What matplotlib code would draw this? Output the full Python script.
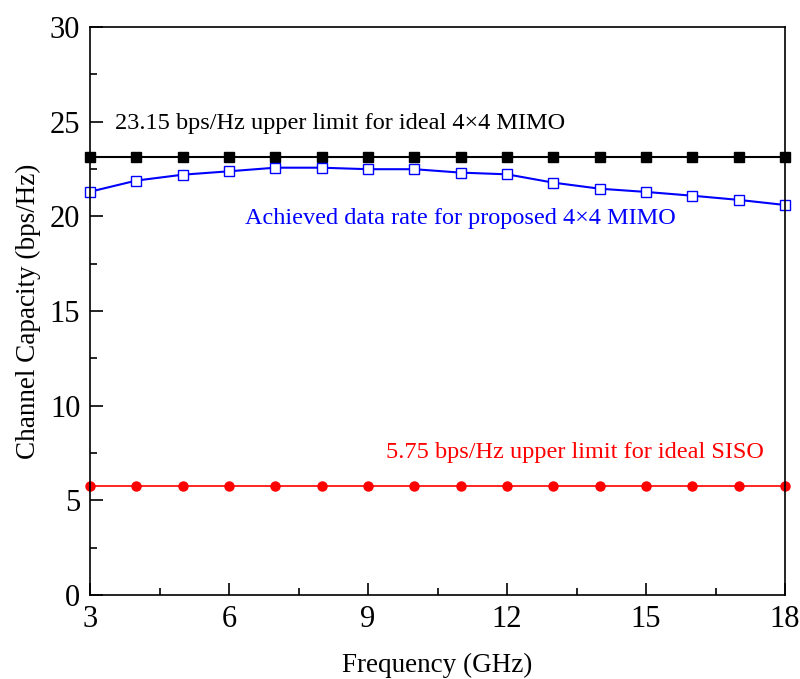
import matplotlib
matplotlib.use("Agg")
import matplotlib.pyplot as plt
from matplotlib.ticker import MultipleLocator

plt.rcParams['font.family'] = ['Liberation Serif', 'DejaVu Serif']

freq = [3, 4, 5, 6, 7, 8, 9, 10, 11, 12, 13, 14, 15, 16, 17, 18]
ideal_mimo = [23.15] * len(freq)
ideal_siso = [5.75] * len(freq)
proposed_mimo = [21.3, 21.89, 22.2, 22.38, 22.57, 22.57, 22.49, 22.49,
                 22.31, 22.22, 21.78, 21.46, 21.29, 21.09, 20.87, 20.6]

fig = plt.figure(figsize=(8, 6.79), dpi=100)
ax = fig.add_axes([0.1125, 0.1237, 0.8688, 0.8365])

ax.plot(freq, ideal_mimo, color='black', lw=1.5, marker='s', ms=6.5, clip_on=False)
ax.plot(freq, proposed_mimo, color='blue', lw=1.5, marker='s', ms=6.5,
        markerfacecolor='white', markeredgecolor='blue', clip_on=False)
ax.plot(freq, ideal_siso, color='red', lw=1.2, marker='o', ms=6.5, clip_on=False)

ax.text(3.54, 24.9, '23.15 bps/Hz upper limit for ideal 4\u00d74 MIMO',
        color='black', fontsize=17.5, va='center')
ax.text(6.35, 19.9, 'Achieved data rate for proposed 4\u00d74 MIMO',
        color='blue', fontsize=17.5, va='center')
ax.text(9.39, 7.55, '5.75 bps/Hz upper limit for ideal SISO',
        color='red', fontsize=17.5, va='center')

ax.set_xlim(3, 18)
ax.set_ylim(0, 30)
ax.xaxis.set_major_locator(MultipleLocator(3))
ax.xaxis.set_minor_locator(MultipleLocator(1.5))
ax.yaxis.set_major_locator(MultipleLocator(5))
ax.yaxis.set_minor_locator(MultipleLocator(2.5))
ax.tick_params(which='both', direction='in', top=False, right=False, width=1.2)
ax.tick_params(which='major', length=9, labelsize=22, pad=7)
ax.tick_params(which='minor', length=5)
for s in ax.spines.values():
    s.set_linewidth(1.2)

ax.set_xlabel('Frequency (GHz)', fontsize=19.5, labelpad=14)
ax.set_ylabel('Channel Capacity (bps/Hz)', fontsize=19.5, labelpad=6)

fig.savefig('out.png', dpi=100)
